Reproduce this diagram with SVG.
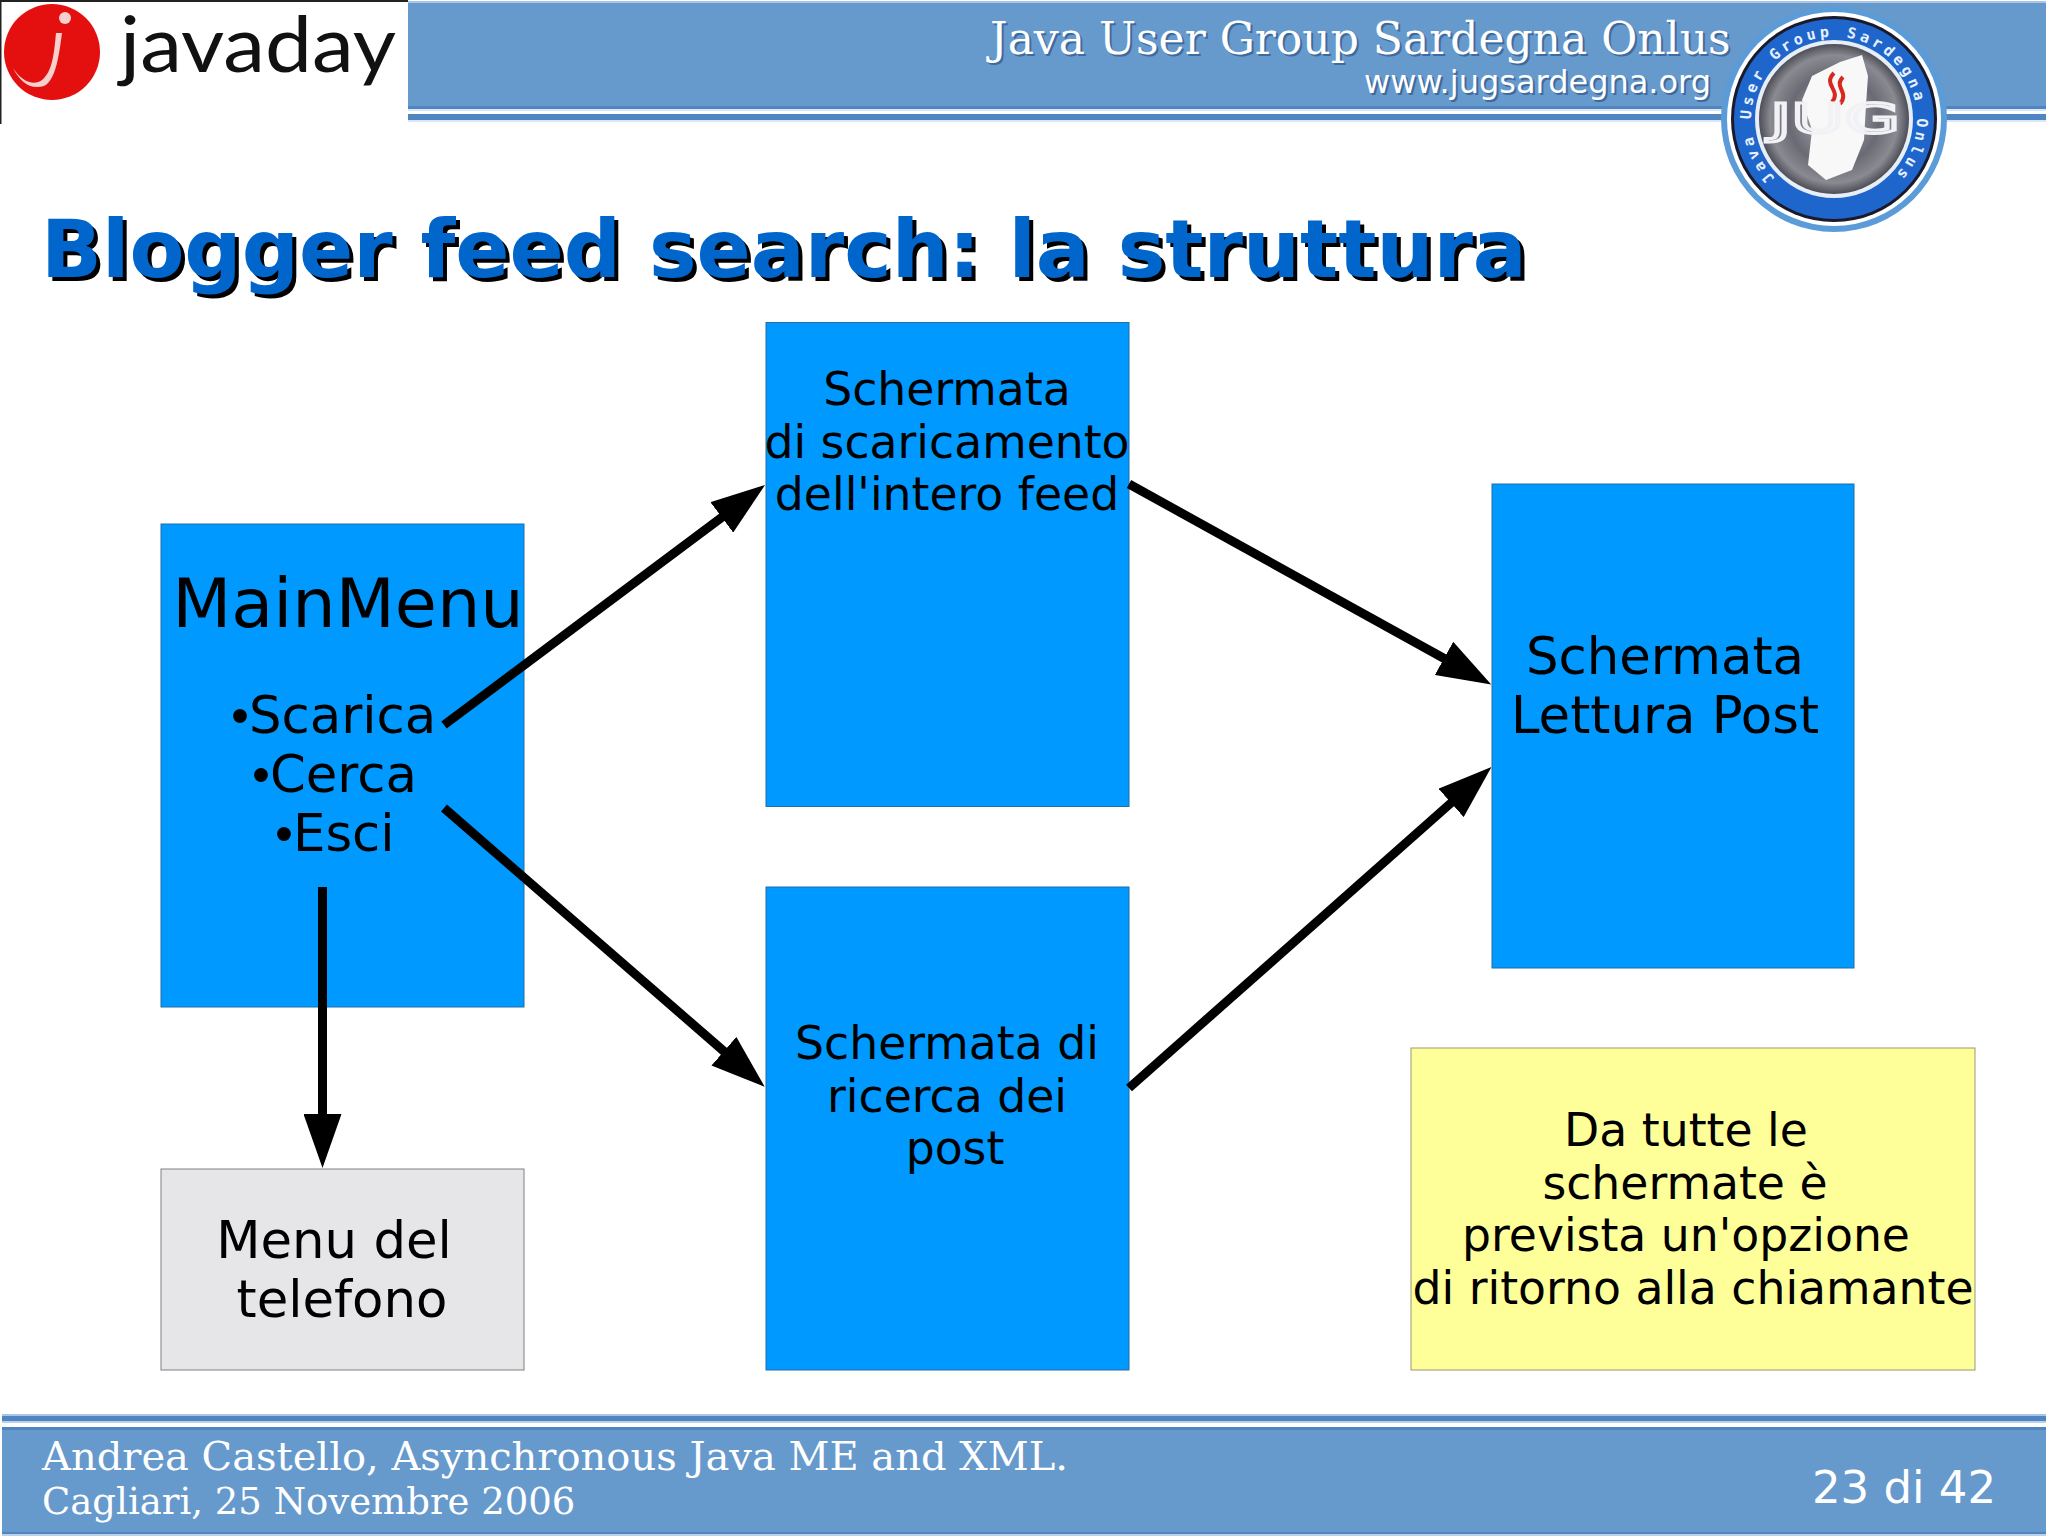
<svg xmlns="http://www.w3.org/2000/svg" width="2048" height="1536" viewBox="0 0 2048 1536">
<style>
.box{fill:#0099ff;stroke:#1f6fa8;stroke-width:1}
.grey{fill:#e6e6e8;stroke:#808080;stroke-width:1}
.yel{fill:#ffff99;stroke:#999977;stroke-width:1}
text{font-family:"DejaVu Sans",sans-serif;fill:#000;text-anchor:middle}
.s{font-family:"DejaVu Serif",serif;fill:#fff;text-anchor:start}
.l45{font-size:45.7px}.l50{font-size:51.3px}
.st{text-anchor:start}
.b{font-family:"Liberation Sans",sans-serif}
.conn line{stroke:#000;stroke-width:9;fill:none;marker-end:url(#arr)}
</style>
<defs>
<marker id="arr" markerUnits="userSpaceOnUse" markerWidth="54" markerHeight="38" viewBox="0 0 54 38" refX="24" refY="19" orient="auto"><polygon points="0,0 54,19 0,38" fill="#000"/></marker>
<radialGradient id="disc"><stop offset="0" stop-color="#b8b8c0"/><stop offset=".6" stop-color="#6a6a74"/><stop offset=".85" stop-color="#8a8a92"/><stop offset="1" stop-color="#4e4e58"/></radialGradient>
<path id="ringPath" d="M1775,178 A83,83 0 1 1 1893,178"/>
</defs>
<rect width="2048" height="1536" fill="#fff"/>
<g id="header">
<rect x="0" y="1" width="2046" height="3" fill="#a9c4e6"/>
<rect x="0" y="3" width="2046" height="105" fill="#6699cc"/>
<rect x="0" y="106" width="2046" height="3" fill="#4f86c2"/>
<rect x="0" y="109" width="2046" height="2" fill="#dbe6f4"/>
<rect x="0" y="114" width="2046" height="6" fill="#4f86c2"/>
<rect x="0" y="120" width="2046" height="2" fill="#dbe6f4"/>
<text class="s" x="992" y="56" font-size="44" style="fill:#3f6a9c">Java User Group Sardegna Onlus</text>
<text class="s" x="990" y="54" font-size="44">Java User Group Sardegna Onlus</text>
<text x="1713" y="95" font-size="32" style="text-anchor:end;fill:#3f6a9c">www.jugsardegna.org</text>
<text x="1711" y="93" font-size="32" style="text-anchor:end;fill:#fff">www.jugsardegna.org</text>
</g>
<g id="logo-javaday">
<rect x="0" y="0" width="408" height="124" fill="#fff"/>
<rect x="0" y="0" width="408" height="2" fill="#222"/>
<rect x="0" y="0" width="1.5" height="124" fill="#222"/>
<ellipse cx="52" cy="52" rx="48" ry="48" fill="#e4100f"/>
<path d="M56,33 C54,55 52,72 42,80 C34,86 22,82 13,68 C20,82 30,90 44,86 C56,80 59,55 62,33 Z" fill="#f6d0cc"/>
<circle cx="65" cy="18" r="6" fill="#f6d0cc"/>
<text x="120" y="72" font-size="78" style="font-family:'Lato','Noto Sans',sans-serif;text-anchor:start;font-weight:400;fill:#111" textLength="276" lengthAdjust="spacingAndGlyphs">javaday</text>
</g>
<g id="logo-jug">
<circle cx="1834" cy="119" r="113" fill="#5b9bd8"/>
<circle cx="1834" cy="119" r="107" fill="#fff"/>
<circle cx="1834" cy="119" r="103" fill="#1a1a2a"/>
<circle cx="1834" cy="119" r="100" fill="#1f66cc"/>
<circle cx="1834" cy="119" r="79" fill="#e8eef6"/>
<circle cx="1834" cy="119" r="75" fill="url(#disc)"/>
<path d="M1840,62 L1862,55 L1868,76 L1866,105 L1864,140 L1852,170 L1826,180 L1808,165 L1812,130 L1802,100 L1812,76 Z" fill="#f8f8f8"/>
<path d="M1834,73 C1822,85 1842,90 1832,102 M1843,77 C1833,87 1850,92 1840,104" stroke="#d8281e" stroke-width="4" fill="none"/>
<text x="1835" y="133" font-size="41" style="fill:none;stroke:#f2f2f6;stroke-width:3" textLength="130" lengthAdjust="spacingAndGlyphs">JUG</text>
<text font-size="15" style="fill:#e8f0ff;font-family:'DejaVu Sans Mono',monospace;font-weight:bold;text-anchor:start;letter-spacing:3.9px"><textPath href="#ringPath">Java User Group Sardegna Onlus</textPath></text>
</g>
<text id="title-shadow" x="45" y="281" font-size="80" font-weight="bold" style="text-anchor:start;fill:#000">Blogger feed search: la struttura</text>
<text id="title" x="41" y="277" font-size="80" font-weight="bold" style="text-anchor:start;fill:#0066cc">Blogger feed search: la struttura</text>
<g id="node-mainmenu">
<rect class="box" x="161" y="524" width="363" height="483"/>
<text x="348" y="627" font-size="68.5">MainMenu</text>
<text class="l50 st" x="231" y="733"><tspan class="b">•</tspan>Scarica</text>
<text class="l50 st" x="252" y="792"><tspan class="b">•</tspan>Cerca</text>
<text class="l50 st" x="275" y="851"><tspan class="b">•</tspan>Esci</text>
</g>
<g id="node-scaricamento">
<rect class="box" x="766" y="322.5" width="363" height="484"/>
<text class="l45" x="947" y="405">Schermata</text>
<text class="l45" x="947" y="458">di scaricamento</text>
<text class="l45" x="947" y="510">dell'intero feed</text>
</g>
<g id="node-ricerca">
<rect class="box" x="766" y="887" width="363" height="483"/>
<text class="l45" x="947" y="1059">Schermata di</text>
<text class="l45" x="947" y="1112">ricerca dei</text>
<text class="l45" x="955" y="1164">post</text>
</g>
<g id="node-lettura">
<rect class="box" x="1492" y="484" width="362" height="484"/>
<text class="l50" x="1665" y="674">Schermata</text>
<text class="l50" x="1665" y="733">Lettura Post</text>
</g>
<g id="node-telefono">
<rect class="grey" x="161" y="1169" width="363" height="201"/>
<text class="l50" x="334" y="1258">Menu del</text>
<text class="l50" x="342" y="1317">telefono</text>
</g>
<g id="node-nota">
<rect class="yel" x="1411" y="1048" width="564" height="322"/>
<text class="l45" x="1686" y="1146">Da tutte le</text>
<text class="l45" x="1685" y="1199">schermate è</text>
<text class="l45" x="1686" y="1251">prevista un'opzione</text>
<text class="l45" x="1693" y="1304">di ritorno alla chiamante</text>
</g>
<g id="connectors" class="conn">
<line x1="444" y1="725" x2="741" y2="503"/>
<line x1="444" y1="808" x2="742" y2="1067"/>
<line x1="322.5" y1="887" x2="322.5" y2="1138"/>
<line x1="1129" y1="484" x2="1465" y2="670"/>
<line x1="1129" y1="1088" x2="1469" y2="787"/>
</g>
<g id="footer">
<rect x="2" y="1414" width="2044" height="3" fill="#a9c4e6"/>
<rect x="2" y="1416" width="2044" height="5" fill="#4f86c2"/>
<rect x="2" y="1421" width="2044" height="2" fill="#bcd0ea"/>
<rect x="2" y="1427" width="2044" height="107" fill="#6699cc"/>
<rect x="2" y="1427" width="2044" height="3" fill="#4f86c2"/>
<rect x="2" y="1532" width="2044" height="2" fill="#4f86c2"/>
<rect x="2" y="1534" width="2044" height="2" fill="#bcd0ea"/>
<text class="s" x="42" y="1470" font-size="40">Andrea Castello, Asynchronous Java ME and XML.</text>
<text class="s" x="42" y="1514" font-size="37">Cagliari, 25 Novembre 2006</text>
<text x="1904" y="1503" font-size="45" style="fill:#fff">23 di 42</text>
</g>
</svg>
